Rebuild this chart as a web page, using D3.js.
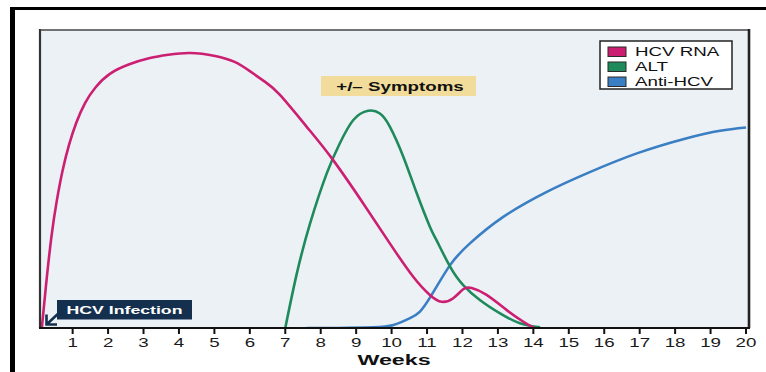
<!DOCTYPE html>
<html>
<head>
<meta charset="utf-8">
<style>
  body { margin: 0; background: #fff; }
  svg { display: block; }
  text { font-family: "Liberation Sans", Arial, Helvetica, sans-serif; }
  .tick-label { font-size: 12.5px; fill: #1a1a1a; }
</style>
<script src="https://cdn.jsdelivr.net/npm/d3@7"></script>
</head>
<body>
<svg id="chart" width="766" height="372"></svg>
<script>
// week ticks along the x axis
var tickWeeks = [1, 2, 3, 4, 5, 6, 7, 8, 9, 10, 11, 12, 13, 14, 15, 16, 17, 18, 19, 20];

// HCV RNA (relative level, 0-100)
var rnaWeeks  = [0.13, 0.25, 0.40, 0.55, 0.72, 0.90, 1.10, 1.35, 1.65, 2.05, 2.60, 3.18, 3.70, 4.31, 5.02, 5.57, 6.00, 6.43, 6.85, 7.60, 8.31, 9.20, 9.95, 10.61, 11.08, 11.41, 11.74, 12.02, 12.26, 12.68, 13.25, 13.72, 14.02];
var rnaValues = [0, 14.5, 30.5, 42.5, 53.0, 61.5, 68.8, 75.5, 80.8, 85.3, 88.5, 90.6, 91.7, 92.3, 91.3, 89.3, 86.2, 82.6, 78.2, 67.6, 57.0, 41.8, 28.4, 17.2, 11.1, 8.8, 10.0, 13.0, 13.4, 11.1, 6.0, 2.1, 0];

// ALT
var altWeeks  = [7.0, 7.32, 7.70, 8.17, 8.54, 8.92, 9.34, 9.67, 9.95, 10.33, 10.71, 11.08, 11.27, 11.65, 12.02, 12.49, 13.06, 13.62, 14.19];
var altValues = [0, 18.0, 35.1, 51.9, 62.0, 69.8, 72.9, 72.0, 67.6, 57.5, 45.2, 34.0, 29.4, 20.6, 14.4, 9.4, 4.9, 1.6, 0.2];

// Anti-HCV
var antiWeeks  = [7.6, 8.5, 9.48, 10.05, 10.52, 10.80, 11.13, 11.65, 12.21, 13.15, 14.38, 15.51, 16.92, 18.33, 19.27, 20.0];
var antiValues = [0, 0, 0.2, 1.0, 3.3, 5.5, 11.1, 21.1, 28.4, 37.3, 45.7, 51.9, 58.6, 63.7, 66.2, 67.3];

var legendLabels = ["HCV RNA", "ALT", "Anti-HCV"];
var colors = ["#cc1f72", "#1f8a5c", "#3a7ec3"];

var svg = d3.select("#chart");
var stretch = 1.5;  // the artwork is wide: text is drawn stretched to match

var plot = {left: 40, top: 30, right: 749, bottom: 328};

var x = d3.scaleLinear().domain([0, 20]).range([37.2, 746]);
var y = d3.scaleLinear().domain([0, 100]).range([plot.bottom, plot.top]);

// outer black frame
svg.append("rect").attr("x", 10).attr("y", 7).attr("width", 756).attr("height", 3).attr("fill", "#000");
svg.append("rect").attr("x", 10).attr("y", 7).attr("width", 5).attr("height", 365).attr("fill", "#000");

// plot background
svg.append("rect")
  .attr("x", plot.left).attr("y", plot.top)
  .attr("width", plot.right - plot.left).attr("height", plot.bottom - plot.top)
  .attr("fill", "#ecf1f6");

svg.append("clipPath").attr("id", "clip")
  .append("rect")
  .attr("x", plot.left).attr("y", plot.top - 5)
  .attr("width", plot.right - plot.left).attr("height", plot.bottom - plot.top + 4);

// stretched text helper
function label(sel, tx, ty, str, anchor) {
  return sel.append("text")
    .attr("transform", "translate(" + tx + "," + ty + ") scale(" + stretch + ",1)")
    .attr("text-anchor", anchor || "start")
    .text(str);
}

// symptoms box
svg.append("rect").attr("x", 321).attr("y", 76).attr("width", 155).attr("height", 20).attr("fill", "#f1dc9b");
label(svg, 400, 90.5, "+/\u2013 Symptoms", "middle")
  .style("font-size", "12.5px").style("font-weight", "bold").attr("fill", "#111");

// curves
var line = d3.line()
  .x(function(d) { return x(d[0]); })
  .y(function(d) { return y(d[1]); })
  .curve(d3.curveNatural);

var series = [
  {w: antiWeeks, v: antiValues, c: colors[2]},
  {w: altWeeks, v: altValues, c: colors[1]},
  {w: rnaWeeks, v: rnaValues, c: colors[0]}
];

var g = svg.append("g").attr("clip-path", "url(#clip)");
series.forEach(function(s) {
  g.append("path")
    .datum(d3.zip(s.w, s.v))
    .attr("d", line)
    .attr("fill", "none")
    .attr("stroke", s.c)
    .attr("stroke-width", 2.6)
    .attr("stroke-linejoin", "round");
});

// plot border
svg.append("line").attr("x1", plot.left).attr("x2", plot.left).attr("y1", plot.top - 1).attr("y2", plot.bottom)
  .attr("stroke", "#333").attr("stroke-width", 2.2);
svg.append("line").attr("x1", plot.left).attr("x2", plot.right).attr("y1", plot.top).attr("y2", plot.top)
  .attr("stroke", "#444").attr("stroke-width", 1.5);
svg.append("line").attr("x1", plot.right).attr("x2", plot.right).attr("y1", plot.top - 1).attr("y2", plot.bottom)
  .attr("stroke", "#222").attr("stroke-width", 2.6);

// x axis
var axis = svg.append("g").attr("transform", "translate(0," + plot.bottom + ")");
axis.append("line").attr("x1", plot.left - 1).attr("x2", plot.right + 1)
  .attr("stroke", "#111").attr("stroke-width", 2.2);
axis.selectAll(".tk").data(tickWeeks).enter().append("line")
  .attr("class", "tk")
  .attr("x1", function(d) { return x(d); }).attr("x2", function(d) { return x(d); })
  .attr("y1", 0).attr("y2", 6)
  .attr("stroke", "#111").attr("stroke-width", 2);
tickWeeks.forEach(function(d) {
  label(axis, x(d), 19, String(d), "middle").attr("class", "tick-label");
});
label(svg, 394, 365, "Weeks", "middle")
  .style("font-size", "15.5px").style("font-weight", "bold").attr("fill", "#111");

// infection marker
svg.append("rect").attr("x", 57).attr("y", 300).attr("width", 135).attr("height", 19.5).attr("fill", "#15304e");
label(svg, 124.5, 313.8, "HCV Infection", "middle")
  .style("font-size", "11.8px").style("font-weight", "bold").attr("fill", "#fff");
svg.append("path")
  .attr("d", "M60,312 L46.5,324.5 M46.5,314.5 L46.5,324.5 L57,324.5")
  .attr("fill", "none").attr("stroke", "#15304e").attr("stroke-width", 2.6);

// legend
var legend = svg.append("g");
legend.append("rect").attr("x", 600).attr("y", 41).attr("width", 132).attr("height", 48)
  .attr("fill", "#fff").attr("stroke", "#222").attr("stroke-width", 1.5);
legendLabels.forEach(function(name, i) {
  var ry = 51.5 + i * 15;
  legend.append("rect").attr("x", 608).attr("y", ry - 4.5).attr("width", 18).attr("height", 9.5)
    .attr("fill", colors[i]).attr("stroke", "#2a2a2a").attr("stroke-width", 1);
  label(legend, 635, ry + 4.3, name).style("font-size", "12.5px").attr("fill", "#111");
});
</script>
</body>
</html>
